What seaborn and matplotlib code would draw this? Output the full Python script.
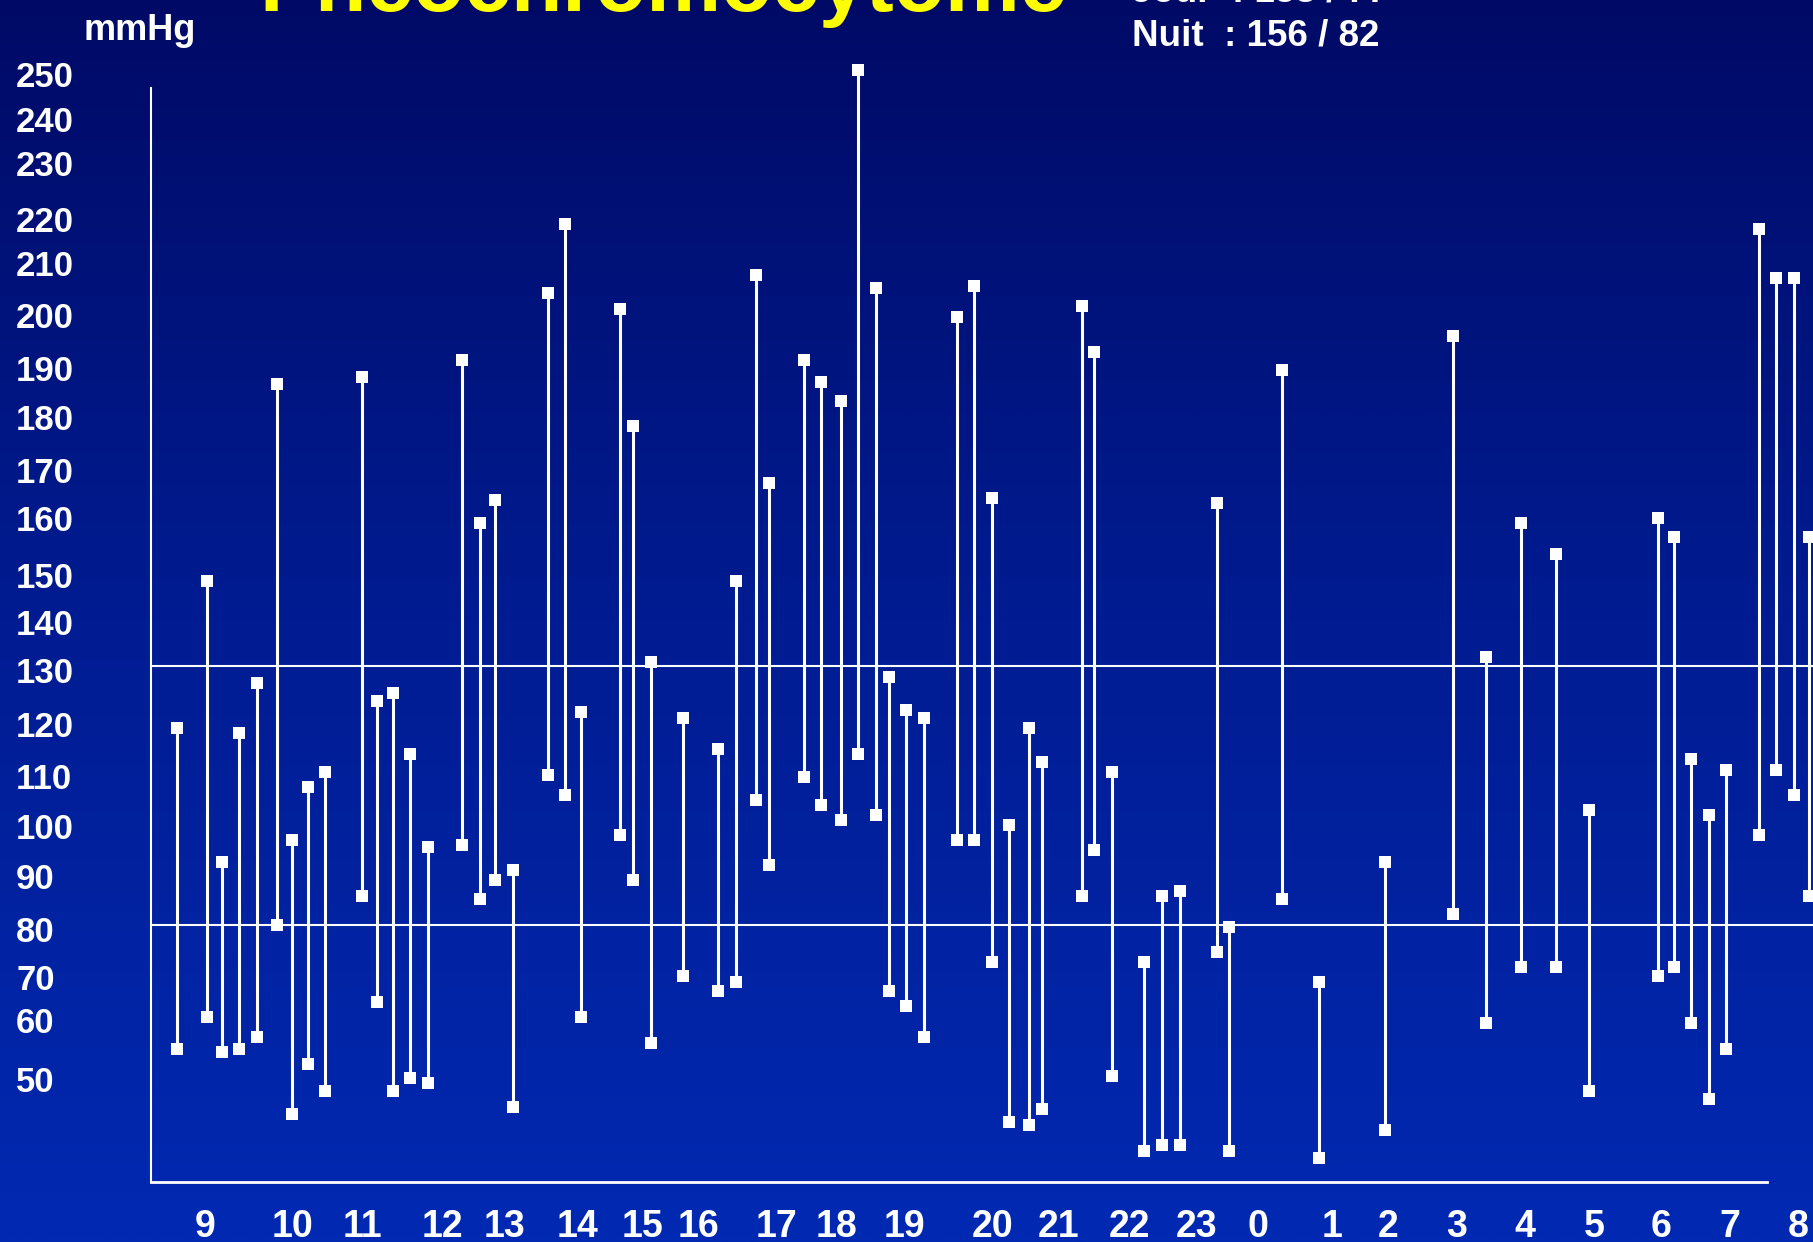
import numpy as np
import pandas as pd
import matplotlib
matplotlib.use("Agg")
import matplotlib.pyplot as plt
import matplotlib.transforms as mtransforms
from matplotlib.colors import LinearSegmentedColormap
import seaborn as sns

# Ambulatory blood pressure readings: position along the 24 h time axis,
# systolic (top) and diastolic (bottom) pressure in mmHg
t_pos = [177, 207, 222, 239, 257, 277, 292, 308, 325, 362, 377, 393, 410, 428,
         462, 480, 495, 513, 548, 565, 581, 620, 633, 651, 683,
         718, 736, 756, 769, 804, 821, 841, 858, 876, 889, 906, 924, 957, 974, 992,
         1009, 1029, 1042, 1082, 1094, 1112, 1144, 1162, 1180, 1217, 1229,
         1282, 1319, 1385, 1453, 1486, 1521, 1556,
         1589, 1658, 1674, 1691, 1709, 1726, 1759, 1776, 1794, 1809]
systolic = [118.5, 148, 92, 117.5, 127, 186, 96.5, 107, 110, 187.5, 123.5, 125, 113.5, 95,
            191, 158.5, 163, 90.5, 203.5, 218, 121.5, 200.5, 177.5, 131, 120.5,
            114.5, 148, 207, 166.5, 191, 186.5, 182.5, 250, 204.5, 128, 122, 120.5, 199, 205, 163.5,
            99.5, 118.5, 112, 201, 192.5, 110, 72.5, 85.5, 86.5, 162.5, 79.5,
            189, 68, 92, 195.5, 132, 158.5, 153,
            102.5, 159.5, 156, 112.5, 101.5, 110.5, 217, 206.5, 206.5, 156]
diastolic = [54.5, 60, 54, 54.5, 56.5, 80, 42.5, 52, 47, 85.5, 63.5, 47, 49.5, 48.5,
             95.5, 85, 88.5, 44, 109.5, 105.5, 60, 97.5, 88.5, 55.5, 69.5,
             66, 68, 104.5, 91.5, 109, 103.5, 100.5, 113.5, 101.5, 66, 62.5, 56.5, 96.5, 96.5, 72.5,
             41, 40.5, 43.5, 85.5, 94.5, 50, 35.5, 36.5, 36.5, 74.5, 35.5,
             85, 34, 39.5, 82, 59, 71.5, 71.5,
             47, 69.5, 71.5, 59, 45.5, 54.5, 97.5, 110.5, 105.5, 85.5]

# Hour ticks along the time axis
hour_labels = ["9", "10", "11", "12", "13", "14", "15", "16", "17", "18", "19", "20",
               "21", "22", "23", "0", "1", "2", "3", "4", "5", "6", "7", "8"]
hour_pos = [205, 292, 362, 442, 505, 578, 643, 698, 776, 836, 904, 993,
            1059, 1130, 1197, 1258, 1332, 1388, 1457, 1525, 1594, 1661, 1730, 1798]

# Pressure graduations and threshold lines
y_ticks = [250, 240, 230, 220, 210, 200, 190, 180, 170, 160, 150,
           140, 130, 120, 110, 100, 90, 80, 70, 60, 50]
thresholds = [130, 80]

title = "Phéochromocytome"
day_text = "Jour  : 153 / 77"
night_text = "Nuit  : 156 / 82"

# Hand-drawn (non uniform) pressure graduation used as the y scale
grad_vals = np.array([0, 50, 60, 70, 80, 90, 100, 110, 120, 130, 140, 150,
                      160, 170, 180, 190, 200, 210, 220, 230, 240, 250, 300], float)
grad_depth = np.array([1334.1, 1075.6, 1016.7, 973.9, 925.0, 872.1, 822.1, 772.1,
                       720.3, 666.4, 618.5, 571.0, 514.7, 466.4, 413.1, 364.9,
                       311.5, 259.8, 215.1, 160.0, 115.2, 70.4, -153.6])


def y_forward(v):
    return -np.interp(v, grad_vals, grad_depth)


def y_inverse(u):
    return np.interp(u, -grad_depth, grad_vals)


sns.set_style("white")
plt.rcParams["font.family"] = ["Liberation Sans", "DejaVu Sans"]
plt.rcParams["font.weight"] = "bold"

W, H, DPI = 1813, 1242, 100
fig = plt.figure(figsize=(W / DPI, H / DPI), dpi=DPI)

# Slide background: vertical navy-to-royal-blue gradient
bg = fig.add_axes([0, 0, 1, 1], zorder=-10)
grad = np.linspace(0, 1, 512).reshape(-1, 1)
cmap = LinearSegmentedColormap.from_list("slide", ["#000A66", "#011C92", "#0229B2"])
bg.imshow(grad, aspect="auto", cmap=cmap, extent=[0, 1, 0, 1], origin="upper")
bg.set_axis_off()

left_px, bottom_px = 151, 1182
ax = fig.add_axes([left_px / W, (H - bottom_px) / H, 1 - left_px / W, bottom_px / H])
ax.set_facecolor("none")
ax.set_yscale("function", functions=(y_forward, y_inverse))

records = []
for i, (t, s, d) in enumerate(zip(t_pos, systolic, diastolic)):
    records.append({"t": t, "mmHg": s, "reading": i})
    records.append({"t": t, "mmHg": d, "reading": i})
df = pd.DataFrame(records)

for th in thresholds:
    ax.axhline(th, color="white", lw=1.5, zorder=1)

sns.lineplot(data=df, x="t", y="mmHg", units="reading", estimator=None, sort=False,
             color="white", lw=2.2, marker="s", markersize=9, markeredgewidth=0,
             legend=False, ax=ax, zorder=3, clip_on=False)

ax.set_xlim(left_px, W)
ax.set_ylim(y_inverse(-bottom_px), y_inverse(0))
ax.set_xticks([])
ax.set_yticks([])
ax.set_xlabel("")
ax.set_ylabel("")
ax.grid(False)

for side in ["top", "right"]:
    ax.spines[side].set_visible(False)
ax.spines["left"].set_color("white")
ax.spines["left"].set_linewidth(1.5)
ax.spines["left"].set_bounds(y_inverse(-bottom_px), y_inverse(-88))
ax.spines["bottom"].set_color("white")
ax.spines["bottom"].set_linewidth(2)
ax.spines["bottom"].set_bounds(left_px, 1767)

# Pressure labels, left aligned in the margin
ylab_tr = mtransforms.offset_copy(
    mtransforms.blended_transform_factory(fig.transFigure, ax.transData),
    fig=fig, x=0, y=-16.5, units="dots")
for v in y_ticks:
    ax.text(16 / W, v, str(v), transform=ylab_tr, ha="left", va="baseline",
            color="white", fontsize=25, fontweight="bold", clip_on=False)

# Hour labels below the axis
xlab_tr = mtransforms.blended_transform_factory(ax.transData, fig.transFigure)
for p, lab in zip(hour_pos, hour_labels):
    ax.text(p, (H - 1237) / H, lab, transform=xlab_tr, ha="center", va="baseline",
            color="white", fontsize=27, fontweight="bold", clip_on=False)

fig.text(84 / W, 1 - 40 / H, "mmHg", color="white", fontsize=26,
         fontweight="bold", ha="left", va="baseline")
fig.text(259 / W, 1 - 11.5 / H, title, color="#FFFF00", fontsize=60.5,
         fontweight="bold", ha="left", va="baseline")
fig.text(1132 / W, 1 - 2 / H, day_text, color="white", fontsize=26.5,
         fontweight="bold", ha="left", va="baseline")
fig.text(1132 / W, 1 - 46 / H, night_text, color="white", fontsize=26.5,
         fontweight="bold", ha="left", va="baseline")

fig.savefig("out.png", dpi=DPI)
